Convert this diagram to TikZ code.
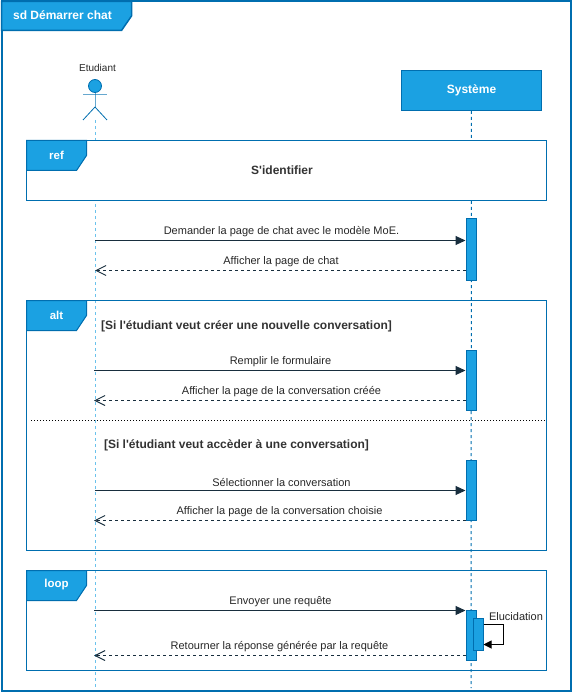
\documentclass[tikz,border=0pt]{standalone}
\usepackage{fontspec}
\setmainfont{Liberation Sans}
\usetikzlibrary{arrows.meta}
\definecolor{umlblue}{HTML}{1BA1E2}
\definecolor{umlline}{HTML}{006EAF}
\definecolor{umlmsg}{HTML}{182E3E}
\tikzset{
  frame/.style={draw=umlline, line width=1pt},
  tab/.style={draw=umlline, fill=umlblue, line width=1pt},
  tabtext/.style={text=white, font=\fontsize{11.5}{14}\selectfont\bfseries, inner sep=0pt},
  msgtext/.style={font=\fontsize{11}{13}\selectfont, text=black!85, inner sep=0pt},
  guard/.style={font=\fontsize{12}{14}\selectfont\bfseries, text=black!80, inner sep=0pt},
  bar/.style={draw=umlline, fill=umlblue, line width=1pt, minimum width=10pt, inner sep=0pt},
  lifeline/.style={draw=umlline, dash pattern=on 3pt off 3pt, line width=1pt},
  call/.style={draw=umlmsg, line width=1pt, -{Triangle[length=10pt,width=9pt]}},
  reply/.style={draw=umlmsg, line width=1pt, dash pattern=on 3pt off 3pt, -{Straight Barb[length=10pt,width=10pt]}},
}
\begin{document}
\begin{tikzpicture}[x=1pt,y=-1pt]
\useasboundingbox (0,0) rectangle (572,692);
% ends of lifelines
\coordinate (etuTop) at (95,120);
\coordinate (etuEnd) at (95,688);
\coordinate (sysEnd) at (471,688);
% draws system box and lifelines
\node[bar, minimum width=140pt, minimum height=40pt, text=white, font=\fontsize{12}{14}\selectfont\bfseries] (sys) at (471.5,90.5) {Système};
\draw[lifeline, draw=umlblue!65!white] (etuTop) to (etuEnd);
\draw[lifeline] (sys) to (sysEnd);
% draws actor
\node[draw=umlline, fill=umlblue, circle, minimum size=13pt, inner sep=0pt, line width=0.8pt] (head) at (95,86) {};
\coordinate (arml) at (83,94);
\coordinate (armr) at (107,94);
\coordinate (hip) at (95,107);
\coordinate (legl) at (83,120);
\coordinate (legr) at (107,120);
\draw[umlline, line width=0.8pt, draw opacity=0.6] (head) to (hip);
\draw[umlline, line width=0.8pt, draw opacity=0.6] (arml) to (armr);
\draw[umlline, line width=0.8pt] (legl) to (hip);
\draw[umlline, line width=0.8pt] (hip) to (legr);
\node[font=\fontsize{10}{12}\selectfont, text=black!85, inner sep=0pt] (etu) at (97.5,67.5) {Etudiant};
% draws outer frame
\draw[frame, line width=2pt] (1.5,1.5) rectangle (570.5,690.5);
\draw[tab, line width=1.5pt] (1.5,1.5) -- (131.5,1.5) -- (131.5,16) -- (121.5,30.5) -- (1.5,30.5) -- cycle;
\node[tabtext, font=\fontsize{12}{14}\selectfont\bfseries] (sd) at (62.5,15.5) {sd Démarrer chat};
% draws ref frame
\draw[frame, fill=white] (26.5,140.5) rectangle (546.5,200.5);
\draw[tab] (26.5,140.5) -- (86.5,140.5) -- (86.5,155.5) -- (76.5,170.5) -- (26.5,170.5) -- cycle;
\node[tabtext] (ref) at (56.5,155) {ref};
\node[guard] (ident) at (282,170.5) {S\textquotesingle identifier};
% draws alt frame
\draw[frame] (26.5,300.5) rectangle (546.5,550.5);
\draw[tab] (26.5,300.5) -- (86.5,300.5) -- (86.5,315.5) -- (76.5,330.5) -- (26.5,330.5) -- cycle;
\node[tabtext] (alt) at (56.5,315) {alt};
\node[guard] (si1) at (246.5,326) {[Si l\textquotesingle étudiant veut créer une nouvelle conversation]};
\node[guard] (si2) at (236.5,445.5) {[Si l\textquotesingle étudiant veut accèder à une conversation]};
\coordinate (sepl) at (31,420.5);
\coordinate (sepr) at (546,420.5);
\draw[black, line width=0.8pt, dash pattern=on 1pt off 2pt] (sepl) to (sepr);
% draws loop frame
\draw[frame] (26.5,570.5) rectangle (546.5,670.5);
\draw[tab] (26.5,570.5) -- (86.5,570.5) -- (86.5,585.5) -- (76.5,600.5) -- (26.5,600.5) -- cycle;
\node[tabtext] (loop) at (56.5,585) {loop};
% draws activation bars
\node[bar, minimum height=62pt] (act1) at (471,249.5) {};
\node[bar, minimum height=60pt] (act2) at (471,380.5) {};
\node[bar, minimum height=60pt] (act3) at (471,490.5) {};
\node[bar, minimum height=50pt] (act4) at (471,635.5) {};
\node[bar, minimum height=32pt] (act5) at (478,634.5) {};
% message ends on the etudiant side
\coordinate (m1) at (95,240.5);
\coordinate (m2) at (95,270.5);
\coordinate (m3) at (94,370.5);
\coordinate (m4) at (94,400.5);
\coordinate (m5) at (95,490.5);
\coordinate (m6) at (94,520.5);
\coordinate (m7) at (94,610.5);
\coordinate (m8) at (94,655.5);
% draws messages
\draw[call] (m1) to (act1.west |- m1);
\draw[reply] (act1.west |- m2) to (m2);
\draw[call] (m3) to (act2.west |- m3);
\draw[reply] (act2.west |- m4) to (m4);
\draw[call] (m5) to (act3.west |- m5);
\draw[reply] (act3.west |- m6) to (m6);
\draw[call] (m7) to (act4.west |- m7);
\draw[reply] (act4.west |- m8) to (m8);
% self message
\coordinate (el1) at (503,624.5);
\coordinate (el2) at (503,644.5);
\draw[black, line width=1pt, -{Triangle[length=8pt,width=8pt]}] (act5.east |- el1) -- (el1) -- (el2) -- (act5.east |- el2);
% labels messages
\node[msgtext] (t1) at (281.5,232) {Demander la page de chat avec le modèle MoE.};
\node[msgtext] (t2) at (281,262) {Afficher la page de chat};
\node[msgtext] (t3) at (280.5,362) {Remplir le formulaire};
\node[msgtext] (t4) at (281.5,392) {Afficher la page de la conversation créée};
\node[msgtext] (t5) at (281.5,482) {Sélectionner la conversation};
\node[msgtext] (t6) at (279.5,512) {Afficher la page de la conversation choisie};
\node[msgtext] (t7) at (280.5,602) {Envoyer une requête};
\node[msgtext] (t8) at (279.5,647) {Retourner la réponse générée par la requête};
\node[msgtext] (t9) at (516,617) {Elucidation};
\end{tikzpicture}
\end{document}
